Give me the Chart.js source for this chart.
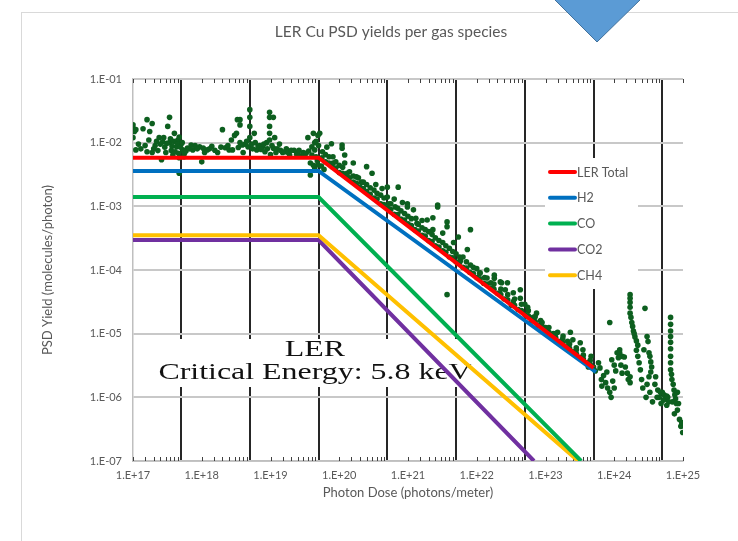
<!DOCTYPE html>
<html>
<head>
<meta charset="utf-8">
<title>LER Cu PSD yields per gas species</title>
<script src="https://cdn.jsdelivr.net/npm/chart.js@4.4.1/dist/chart.umd.min.js"></script>
<style>
    html, body { margin: 0; padding: 0; background: #fff; }
    #wrap { position: relative; width: 738px; height: 541px; overflow: hidden; }
    #frame { position: absolute; left: 21px; top: 12px; width: 730px; height: 540px;
             border-left: 1px solid #d9d9d9; border-top: 1px solid #d9d9d9; }
    canvas { position: absolute; left: 0; top: 0; }
</style>
</head>
<body>
<div id="wrap">
    <div id="frame"></div>
    <canvas id="psdChart" width="738" height="541"></canvas>
</div>
<script>
    'use strict';

    const chartTitle = 'LER Cu PSD yields per gas species';
    const xTitle = 'Photon Dose (photons/meter)';
    const yTitle = 'PSD Yield (molecules/photon)';
    const noteLines = ['LER', 'Critical Energy: 5.8 keV'];

    // axis ticks (labelled decades) and the black gridlines
    const doseTicks = [1e17, 1e18, 1e19, 1e20, 1e21, 1e22, 1e23, 1e24, 1e25];
    const doseGridLines = [5e17, 5e18, 5e19, 5e20, 5e21, 5e22, 5e23, 5e24];
    const yieldTicks = [1e-7, 1e-6, 1e-5, 1e-4, 1e-3, 1e-2, 1e-1];

    // model lines (dose, yield)
    const totalDose = [1e17, 5e19, 5.0e23];
    const totalYield = [5.8e-3, 5.8e-3, 2.9e-6];
    const h2Dose = [1e17, 5e19, 5.4e23];
    const h2Yield = [3.6e-3, 3.6e-3, 2.5e-6];
    const coDose = [1e17, 5e19, 3.3e23];
    const coYield = [1.4e-3, 1.4e-3, 1e-7];
    const co2Dose = [1e17, 5e19, 6.8e22];
    const co2Yield = [2.95e-4, 2.95e-4, 1e-7];
    const ch4Dose = [1e17, 5e19, 3.0e23];
    const ch4Yield = [3.5e-4, 3.5e-4, 1e-7];

    // measured points [dose, yield]
    const measured = [
        // flat part
        [1.0e17,1.9e-2],[1.0e17,1.7e-2],[1.05e17,1.5e-2],[1.1e17,1.6e-2],[1.0e17,1.2e-2],
        [1.1e17,7.7e-3],[1.4e17,1.65e-2],[1.6e17,2.3e-2],[1.6e17,7.2e-3],[1.75e17,1.5e-2],
        [1.9e17,2.0e-2],[1.9e17,7.0e-3],[2.1e17,9.0e-3],[2.4e17,1.2e-2],[2.6e17,5.4e-3],
        [2.7e17,1.03e-2],[2.9e17,8.5e-3],[3.2e17,1.8e-2],[3.4e17,2.5e-2],[3.4e17,1.0e-2],
        [3.6e17,7.5e-3],[3.8e17,6.4e-3],[4.0e17,1.4e-2],[4.3e17,8.6e-3],[4.5e17,1.1e-2],
        [4.7e17,1.23e-2],[4.7e17,5.8e-3],[4.7e17,3.3e-3],[5.0e17,9.5e-3],[5.3e17,7.7e-3],
        [5.6e17,6.8e-3],[6.2e17,8.2e-3],[7.4e17,7.7e-3],[8.0e17,9.0e-3],[9.3e17,8.6e-3],
        [1.0e18,5.0e-3],[1.1e18,7.0e-3],[1.2e18,7.7e-3],[1.4e18,8.8e-3],[1.7e18,7.0e-3],
        [2.0e18,1.6e-2],[2.2e18,8.3e-3],[2.5e18,7.7e-3],[2.8e18,7.7e-3],[3.0e18,1.3e-2],
        [3.2e18,1.4e-2],[3.3e18,2.3e-2],[3.6e18,2.3e-2],[3.6e18,1.9e-2],[3.6e18,1.0e-2],
        [4.0e18,7.0e-3],[4.3e18,9.5e-3],[4.7e18,8.6e-3],[5.0e18,3.3e-2],[5.0e18,2.5e-2],
        [5.0e18,1.8e-2],[5.0e18,1.2e-2],[5.3e18,9.5e-3],[5.8e18,1.4e-2],[6.3e18,7.7e-3],
        [7.0e18,9.0e-3],[7.7e18,8.6e-3],[8.3e18,7.2e-3],[8.8e18,1.0e-2],[9.7e18,3.0e-2],
        [9.7e18,2.5e-2],[9.7e18,1.8e-2],[9.7e18,1.4e-2],[9.7e18,1.1e-2],[1.1e19,2.5e-2],
        [1.1e19,8.2e-3],[1.0e19,6.5e-3],[1.2e19,7.0e-3],[1.35e19,9.5e-3],[1.5e19,7.0e-3],
        [1.7e19,8.0e-3],[1.9e19,6.4e-3],[2.2e19,7.6e-3],[2.5e19,7.0e-3],[2.8e19,6.2e-3],
        [3.1e19,6.6e-3],[3.5e19,1.2e-2],[3.8e19,4.8e-3],[3.8e19,3.1e-3],[4.0e19,8.6e-3],
        [4.0e19,6.4e-3],[4.2e19,1.4e-2],[4.4e19,7.7e-3],[4.4e19,4.0e-3],[4.4e19,1.0e-2],
        [4.9e19,1.3e-2],[4.9e19,4.5e-3],[5.2e19,1.4e-2],[4.2e19,4.4e-3],[5.5e19,4.3e-3],
        [6.0e19,3.8e-3],
        [1.2e17,9.5e-3],[1.3e17,8.0e-3],[1.5e17,9.0e-3],[1.7e17,1.1e-2],[2.0e17,8.0e-3],
        [2.2e17,1.05e-2],[2.3e17,7.5e-3],[2.5e17,9.5e-3],[2.8e17,1.2e-2],[3.0e17,7.0e-3],
        [3.1e17,9.8e-3],[3.5e17,1.15e-2],[3.7e17,8.8e-3],[3.9e17,1.05e-2],[4.1e17,7.2e-3],
        [4.4e17,9.5e-3],[4.6e17,6.8e-3],[4.9e17,8.5e-3],[5.2e17,1.0e-2],[5.5e17,6.0e-3],
        [5.9e17,7.4e-3],[6.6e17,8.0e-3],[7.0e17,9.2e-3],[8.6e17,8.0e-3],[1.05e18,8.2e-3],
        [1.3e18,8.0e-3],[1.55e18,7.6e-3],[1.9e18,8.5e-3],[2.4e18,9.0e-3],[2.7e18,1.1e-2],
        [3.4e18,8.4e-3],[3.9e18,9.2e-3],[4.5e18,1.05e-2],[5.5e18,8.0e-3],[6.0e18,1.0e-2],
        [6.6e18,8.8e-3],[7.3e18,7.8e-3],[8.0e18,9.5e-3],[9.0e18,8.0e-3],[1.05e19,9.0e-3],
        [1.15e19,1.2e-2],[1.25e19,8.0e-3],[1.4e19,7.6e-3],[1.6e19,7.2e-3],[1.8e19,7.0e-3],
        [2.0e19,7.6e-3],[2.4e19,6.6e-3],[2.6e19,7.6e-3],[3.0e19,7.0e-3],[3.3e19,6.8e-3],
        [3.6e19,7.4e-3],[4.6e19,6.0e-3],[4.8e19,5.2e-3],[5.0e19,9.0e-3],[4.6e19,1.05e-2],
        // falling band
        [6.3e19,5.0e-3],[6.3e19,6.5e-3],[6.6e19,8.5e-3],
        [7.9e19,4.2e-3],[8.1e19,4.8e-3],[7.7e19,9.6e-3],[8.1e19,6.0e-3],
        [1.0e20,3.4e-3],[1.0e20,4.4e-3],[1.1e20,9.2e-3],[1.1e20,8.2e-3],
        [1.26e20,2.9e-3],[1.2e20,4.8e-3],[1.2e20,6.4e-3],[1.3e20,3.3e-3],
        [1.6e20,2.4e-3],[1.6e20,3.0e-3],[1.6e20,4.8e-3],
        [1.9e20,2.8e-3],[2.0e20,2.0e-3],[2.1e20,2.4e-3],
        [2.5e20,4.2e-3],[2.5e20,1.7e-3],[2.5e20,2.2e-3],
        [3.0e20,3.3e-3],[3.2e20,1.35e-3],[3.2e20,1.8e-3],[3.4e20,2.2e-3],
        [4.0e20,1.1e-3],[4.0e20,1.5e-3],[4.2e20,1.9e-3],
        [5.0e20,2.0e-3],[5.0e20,1.4e-3],[5.0e20,9.5e-4],[5.3e20,1.1e-3],
        [6.5e20,9.8e-4],[6.3e20,7.5e-4],[6.3e20,1.3e-3],
        [7.2e20,2.0e-3],[7.9e20,6.3e-4],[7.9e20,8.5e-4],[8.3e20,1.15e-3],
        [9.8e20,9.8e-4],[9.8e20,1.1e-3],[1.0e21,5.3e-4],[1.0e21,7.0e-4],
        [1.2e21,8.8e-4],[1.26e21,4.3e-4],[1.35e21,5.4e-4],[1.3e21,6.5e-4],
        [1.6e21,3.5e-4],[1.6e21,4.6e-4],[1.6e21,6.0e-4],
        [1.9e21,6.1e-4],[2.0e21,2.9e-4],[2.0e21,4.0e-4],
        [2.3e21,6.6e-4],[2.3e21,4.3e-4],[2.5e21,2.4e-4],[2.5e21,3.2e-4],[2.7e21,1.05e-3],[2.7e21,9.8e-4],
        [3.2e21,3.8e-4],[3.2e21,2.0e-4],[3.2e21,2.7e-4],
        [3.7e21,5.7e-4],[3.7e21,4.8e-4],[4.0e21,1.6e-4],[4.0e21,2.2e-4],[3.7e21,4.1e-5],
        [4.6e21,2.7e-4],[5.0e21,1.35e-4],[5.0e21,1.8e-4],[5.4e21,3.3e-4],
        [5.8e21,1.4e-4],[6.3e21,1.1e-4],[6.3e21,1.6e-4],[7.3e21,2.1e-4],
        [8.1e21,4.3e-4],[8.1e21,1.2e-4],[7.9e21,9.2e-5],
        [1.0e22,7.6e-5],[1.1e22,8.9e-5],[1.0e22,1.05e-4],
        [1.26e22,6.2e-5],[1.4e22,1.0e-4],[1.3e22,7.6e-5],
        [1.6e22,5.2e-5],[1.8e22,7.4e-5],[1.8e22,8.3e-5],[1.6e22,6.3e-5],
        [2.2e22,6.5e-5],[2.0e22,4.3e-5],[2.3e22,6.3e-5],
        [2.6e22,4.9e-5],[2.5e22,3.5e-5],[2.8e22,6.3e-5],
        [3.4e22,4.4e-5],[3.4e22,3.2e-5],[3.2e22,2.8e-5],
        [4.3e22,4.9e-5],[4.3e22,3.6e-5],[4.0e22,2.4e-5],
        [5.5e22,2.6e-5],[5.0e22,2.0e-5],[5.0e22,2.9e-5],
        [6.6e22,1.8e-5],[6.3e22,1.6e-5],[7.4e22,2.1e-5],
        [7.9e22,1.35e-5],[8.5e22,1.6e-5],
        [1.05e23,1.1e-5],[1.0e23,1.25e-5],
        [1.26e23,9.2e-6],[1.5e23,1.05e-5],[1.3e23,1.0e-5],
        [1.6e23,7.5e-6],[1.8e23,9.2e-6],
        [2.0e23,6.2e-6],[2.3e23,1.05e-5],[2.1e23,7.6e-6],
        [2.5e23,8.0e-6],[2.5e23,5.2e-6],[2.8e23,6.0e-6],
        [3.2e23,7.2e-6],[3.5e23,5.6e-6],[3.2e23,4.2e-6],
        [4.0e23,3.5e-6],[4.6e23,4.4e-6],[4.2e23,3.0e-6],
        [5.0e23,3.0e-6],[5.3e23,2.6e-6],[5.9e23,3.5e-6],
        [5.6e19,5.8e-3],[5.7e19,7.2e-3],[7.1e19,4.8e-3],[7.1e19,6.0e-3],[8.9e19,4.0e-3],[8.9e19,5.0e-3],
        [1.12e20,3.3e-3],[1.12e20,4.1e-3],[1.41e20,2.8e-3],[1.41e20,3.5e-3],[1.78e20,2.3e-3],[1.78e20,2.9e-3],
        [2.24e20,1.9e-3],[2.24e20,2.4e-3],[2.82e20,1.55e-3],[2.82e20,1.95e-3],[3.55e20,1.3e-3],[3.55e20,1.6e-3],
        [4.47e20,1.07e-3],[4.47e20,1.35e-3],[5.62e20,8.9e-4],[5.62e20,1.1e-3],[7.08e20,7.4e-4],[7.08e20,9.3e-4],
        [8.91e20,6.1e-4],[8.91e20,7.7e-4],[1.12e21,5.0e-4],[1.12e21,6.4e-4],[1.41e21,4.1e-4],[1.41e21,5.2e-4],
        [1.78e21,3.4e-4],[1.78e21,4.3e-4],[2.24e21,2.8e-4],[2.24e21,3.6e-4],[2.82e21,2.3e-4],[2.82e21,2.9e-4],
        [3.55e21,1.9e-4],[3.55e21,2.4e-4],[4.47e21,1.55e-4],[4.47e21,1.95e-4],[5.62e21,1.3e-4],[5.62e21,1.6e-4],
        [7.08e21,1.07e-4],[7.08e21,1.35e-4],[8.91e21,8.8e-5],[8.91e21,1.1e-4],[1.12e22,7.3e-5],[1.12e22,9.0e-5],
        [1.41e22,6.0e-5],[1.41e22,7.5e-5],[1.78e22,5.0e-5],[1.78e22,6.0e-5],[2.24e22,4.1e-5],[2.24e22,5.0e-5],
        [2.82e22,3.4e-5],[2.82e22,4.1e-5],[3.55e22,2.8e-5],[3.55e22,3.5e-5],[4.47e22,2.3e-5],[4.47e22,2.9e-5],
        [5.62e22,1.9e-5],[5.62e22,2.3e-5],[7.08e22,1.55e-5],[7.08e22,1.85e-5],[8.91e22,1.3e-5],[8.91e22,1.5e-5],
        [1.12e23,1.05e-5],[1.12e23,1.25e-5],[1.41e23,8.6e-6],[1.41e23,1.0e-5],[1.78e23,7.1e-6],[1.78e23,8.3e-6],
        [2.24e23,5.9e-6],[2.24e23,6.9e-6],[2.82e23,4.8e-6],[2.82e23,5.6e-6],[3.55e23,4.0e-6],[3.55e23,4.6e-6],
        [4.47e23,3.3e-6],[4.47e23,3.8e-6],
        // scattered tail
        [6.2e23,2.9e-6],[7.0e23,2.2e-6],[7.5e23,1.7e-6],[8.0e23,1.4e-6],[1.0e24,3.2e-6],[1.05e24,2.6e-6],
        [6.5e23,1.9e-6],[6.6e23,1.5e-6],[7.8e23,2.5e-6],[8.6e23,1.2e-6],[9.0e23,1.0e-6],
        [8.6e23,1.5e-5],[9.2e23,3.9e-6],[1.1e24,5.0e-6],[1.2e24,5.6e-6],[1.2e24,5.0e-6],
        [1.3e24,4.4e-6],[1.3e24,2.4e-6],[1.4e24,4.3e-6],[1.7e24,2.1e-6],[1.7e24,1.7e-6],
        [1.7e24,4.1e-5],[1.7e24,3.1e-5],[1.7e24,2.1e-5],[1.8e24,1.5e-5],[1.9e24,1.1e-5],
        [2.0e24,8.9e-6],[2.2e24,6.6e-6],[2.2e24,4.4e-6],[2.4e24,2.7e-6],[2.5e24,1.9e-6],
        [2.8e24,2.5e-5],[3.0e24,9.0e-6],[2.7e24,5.6e-6],[3.3e24,4.4e-6],[3.5e24,3.0e-6],
        [3.2e24,2.1e-6],[3.3e24,1.2e-6],[3.6e24,8.5e-7],[4.0e24,2.1e-6],[4.3e24,1.3e-6],
        [5.0e24,1.2e-6],[5.5e24,9.5e-7],[6.6e24,1.8e-5],[6.6e24,1.1e-5],[6.6e24,7.3e-6],
        [6.6e24,4.4e-6],[6.6e24,2.7e-6],[6.9e24,1.9e-6],[7.4e24,1.3e-6],[7.8e24,9.5e-7],
        [8.3e24,6.3e-7],[8.9e24,4.5e-7],[9.3e24,3.5e-7],[9.9e24,2.8e-7],[8.3e24,1.2e-6],
        [4.5e24,1.0e-6],[5.2e24,9.0e-7],[6.0e24,1.0e-6],[4.8e24,8.0e-7],[5.8e24,7.5e-7],
        [2.6e24,1.4e-6],[2.9e24,1.0e-6],[3.9e24,1.6e-6],[7.0e24,8.5e-7],[7.5e24,5.5e-7],
        [8.6e24,8.0e-7],[9.6e24,4.0e-7],
        [1.7e24,3.6e-5],[1.7e24,2.6e-5],[1.75e24,1.8e-5],[1.85e24,1.3e-5],[1.95e24,1.0e-5],
        [2.1e24,7.7e-6],[2.1e24,5.5e-6],[2.3e24,3.5e-6],[6.6e24,1.4e-5],[6.6e24,9.0e-6],
        [6.6e24,5.8e-6],[6.6e24,3.5e-6],[6.8e24,2.3e-6],[7.2e24,1.6e-6],[7.6e24,1.1e-6],
        [8.0e24,8.0e-7],[3.1e24,7.5e-6],[3.2e24,5.0e-6],[3.4e24,3.6e-6],[3.4e24,2.5e-6],
        [3.0e24,1.6e-6],[1.15e24,4.2e-6],[1.25e24,3.2e-6],[1.45e24,3.0e-6],[1.55e24,2.4e-6],
        [1.6e24,1.9e-6],[9.5e23,1.8e-6],[1.0e24,1.4e-6],[4.2e24,1.0e-6],[4.7e24,1.2e-6],
        [5.3e24,1.1e-6],[5.8e24,1.05e-6],[6.2e24,8.5e-7]
    ];

    const FONT = 'Lato, "Open Sans", sans-serif';
    const GREY_TEXT = '#595959';

    function pairs(xs, ys) {
        return xs.map(function (x, i) { return { x: x, y: ys[i] }; });
    }

    function sciLabel(v) {
        const e = Math.round(Math.log10(v));
        return '1.E' + (e < 0 ? '-' : '+') + String(Math.abs(e)).padStart(2, '0');
    }

    function isDecade(v) {
        return Math.abs(Math.log10(v) - Math.round(Math.log10(v))) < 1e-6;
    }

    function lineSet(label, xs, ys, color, order) {
        return {
            type: 'line',
            label: label,
            data: pairs(xs, ys),
            borderColor: color,
            backgroundColor: color,
            borderWidth: 4,
            pointRadius: 0,
            fill: false,
            tension: 0,
            order: order,
            inLegend: true
        };
    }

    // extra drawing: title, minor ticks, note box, legend, arrow shape
    const decorations = {
        id: 'decorations',
        beforeDatasetsDraw(chart) {
            const ctx = chart.ctx;
            const area = chart.chartArea;
            const xs = chart.scales.x;

            // minor ticks on bottom and top edges
            ctx.save();
            ctx.strokeStyle = '#404040';
            ctx.lineWidth = 1;
            for (let n = 16; n <= 24; n++) {
                for (let k = 2; k <= 9; k++) {
                    const v = 5 * k * Math.pow(10, n);
                    if (v < 1e17 || v > 1e25) continue;
                    const px = Math.round(xs.getPixelForValue(v)) + 0.5;
                    ctx.beginPath();
                    ctx.moveTo(px, area.bottom);
                    ctx.lineTo(px, area.bottom - 4);
                    ctx.moveTo(px, area.top);
                    ctx.lineTo(px, area.top + 4);
                    ctx.stroke();
                }
            }
            ctx.restore();

            // note text box
            ctx.save();
            ctx.fillStyle = '#fff';
            ctx.fillRect(area.left + 17, area.top + 260, 335, 48);
            ctx.fillStyle = '#111';
            ctx.textAlign = 'center';
            ctx.textBaseline = 'middle';
            ctx.font = '24px "Liberation Serif", "DejaVu Serif", serif';
            const cx = area.left + 182;
            noteLines.forEach(function (t, i) {
                ctx.save();
                ctx.translate(cx, area.top + 271 + i * 23);
                ctx.scale(1.33, 1);
                ctx.fillText(t, 0, 0);
                ctx.restore();
            });
            ctx.restore();

            // legend box inside plot
            const lx = area.right - 138;
            const ly = area.top + 79;
            ctx.save();
            ctx.fillStyle = '#fff';
            ctx.fillRect(lx, ly, 93, 131);
            ctx.font = '12.5px ' + FONT;
            ctx.textBaseline = 'middle';
            ctx.fillStyle = GREY_TEXT;
            let row = 0;
            chart.data.datasets.forEach(function (ds) {
                if (!ds.inLegend) return;
                const y = ly + 14 + row * 25.8;
                ctx.strokeStyle = ds.borderColor;
                ctx.lineWidth = 4;
                ctx.lineCap = 'round';
                ctx.beginPath();
                ctx.moveTo(lx + 5, y);
                ctx.lineTo(lx + 30, y);
                ctx.stroke();
                ctx.fillText(ds.label, lx + 32, y + 0.5);
                row++;
            });
            ctx.restore();
        },
        afterDraw(chart) {
            const ctx = chart.ctx;
            // chart title
            ctx.save();
            ctx.font = '15.5px ' + FONT;
            ctx.fillStyle = GREY_TEXT;
            ctx.textAlign = 'center';
            ctx.textBaseline = 'middle';
            ctx.fillText(chartTitle, 391, 32);
            ctx.restore();

            // blue down arrow shape at the top
            ctx.save();
            ctx.beginPath();
            ctx.moveTo(553, -2);
            ctx.lineTo(642, -2);
            ctx.lineTo(597, 42);
            ctx.closePath();
            ctx.fillStyle = '#5b9bd5';
            ctx.fill();
            ctx.strokeStyle = '#41719c';
            ctx.lineWidth = 1;
            ctx.stroke();
            ctx.restore();
        }
    };

    document.addEventListener('DOMContentLoaded', function () {
        const ctx = document.getElementById('psdChart');
        if (!ctx) return;

        const data = {
            datasets: [
                lineSet('LER Total', totalDose, totalYield, '#ff0000', 1),
                lineSet('H2', h2Dose, h2Yield, '#0070c0', 2),
                lineSet('CO', coDose, coYield, '#00b050', 3),
                lineSet('CO2', co2Dose, co2Yield, '#7030a0', 5),
                lineSet('CH4', ch4Dose, ch4Yield, '#ffc000', 4),
                {
                    type: 'scatter',
                    label: 'Measured',
                    data: measured.map(function (p) { return { x: p[0], y: p[1] }; }),
                    backgroundColor: '#0d5f1f',
                    borderWidth: 0,
                    pointRadius: 2.8,
                    order: 10
                }
            ]
        };

        new Chart(ctx, {
            type: 'scatter',
            data: data,
            plugins: [decorations],
            options: {
                responsive: false,
                animation: false,
                layout: { padding: { left: 40, right: 55, top: 79, bottom: 40 } },
                plugins: {
                    legend: { display: false },
                    title: { display: false },
                    tooltip: { enabled: false }
                },
                scales: {
                    x: {
                        type: 'logarithmic',
                        min: 1e17,
                        max: 1e25,
                        afterBuildTicks: function (scale) {
                            scale.ticks = doseTicks.concat(doseGridLines).map(function (v) { return { value: v }; });
                        },
                        afterFit: function (scale) { scale.height = 40; },
                        ticks: {
                            autoSkip: false,
                            maxRotation: 0,
                            padding: 8,
                            color: GREY_TEXT,
                            font: { family: FONT, size: 11 },
                            callback: function (v) { return isDecade(v) ? sciLabel(v) : ''; }
                        },
                        grid: {
                            drawTicks: false,
                            lineWidth: 2,
                            color: function (c) {
                                if (!c.tick) return 'rgba(0,0,0,0)';
                                return isDecade(c.tick.value) ? 'rgba(0,0,0,0)' : '#262626';
                            }
                        },
                        border: { display: true, color: '#bfbfbf', width: 1.5 },
                        title: {
                            display: true,
                            text: xTitle,
                            color: GREY_TEXT,
                            padding: 0,
                            font: { family: FONT, size: 13 }
                        }
                    },
                    y: {
                        type: 'logarithmic',
                        min: 1e-7,
                        max: 1e-1,
                        afterBuildTicks: function (scale) {
                            scale.ticks = yieldTicks.map(function (v) { return { value: v }; });
                        },
                        afterFit: function (scale) { scale.width = 93; },
                        ticks: {
                            padding: 11,
                            color: GREY_TEXT,
                            font: { family: FONT, size: 11 },
                            callback: function (v) { return sciLabel(v); }
                        },
                        grid: {
                            drawTicks: false,
                            lineWidth: 2,
                            color: '#c8c8c8'
                        },
                        border: { display: true, color: '#bfbfbf', width: 1.5 },
                        title: {
                            display: true,
                            text: yTitle,
                            color: GREY_TEXT,
                            padding: 0,
                            font: { family: FONT, size: 13 }
                        }
                    }
                }
            }
        });
    });
</script>
</body>
</html>
